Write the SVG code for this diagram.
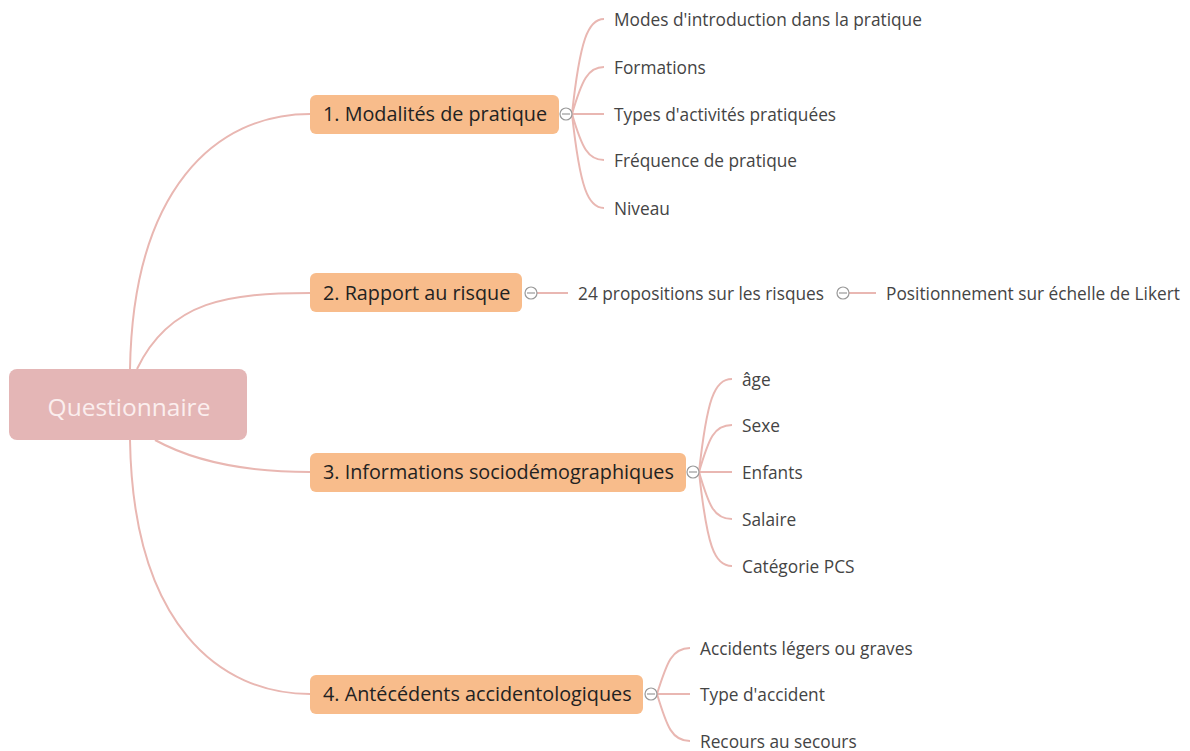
<svg xmlns="http://www.w3.org/2000/svg" width="1190" height="751" viewBox="0 0 1190 751">
<style>
.c{fill:none;stroke:#e9b7b2;stroke-width:2}
.t{fill:#f8bc8b}
.tl{font-family:"Open Sans","Liberation Sans",sans-serif;font-size:19.8px;fill:#222}
.lf{font-family:"Open Sans","Liberation Sans",sans-serif;font-size:17.3px;fill:#444}
.cc{fill:#fff;stroke:#999;stroke-width:1.2}
.cm{stroke:#999;stroke-width:1.2}
</style>
<rect width="1190" height="751" fill="#fff"/>
<g id="connectors">
<path class="c" d="M130,369 C133,190 215,114 310,114"/>
<path class="c" d="M137,369 C170,300 230,293 310,293"/>
<path class="c" d="M155,440 C195,462 250,472 310,472"/>
<path class="c" d="M130,440 C133,625 220,694 310,694"/>
<path class="c" d="M572,114 C580,40 588,19 604,19"/>
<path class="c" d="M572,114 C582,80 588,67 604,67"/>
<path class="c" d="M572,114 L604,114"/>
<path class="c" d="M572,114 C582,148 588,160 604,160"/>
<path class="c" d="M572,114 C580,188 588,208 604,208"/>
<path class="c" d="M537,293 L568,293"/>
<path class="c" d="M849,293 L876,293"/>
<path class="c" d="M699,472 C707,400 714,379 732,379"/>
<path class="c" d="M699,472 C709,438 714,425 732,425"/>
<path class="c" d="M699,472 L732,472"/>
<path class="c" d="M699,472 C709,506 714,519 732,519"/>
<path class="c" d="M699,472 C707,545 714,566 732,566"/>
<path class="c" d="M657,694 C667,662 672,648 690,648"/>
<path class="c" d="M657,694 L690,694"/>
<path class="c" d="M657,694 C667,727 672,741 690,741"/>
</g>
<g id="root">
<rect x="9" y="369" width="238" height="71" rx="8" fill="#e4b6b6"/>
<text x="129" y="416" text-anchor="middle" font-family="'Open Sans','Liberation Sans',sans-serif" font-size="24.5" fill="#fbeeee">Questionnaire</text>
</g>
<g id="n1">
<rect class="t" x="310" y="95" width="249" height="39" rx="6"/>
<text class="tl" x="323" y="121">1. Modalités de pratique</text>
<circle class="cc" cx="566" cy="114" r="6"/><line class="cm" x1="562" y1="114" x2="570" y2="114"/>
</g>
<g id="n2">
<rect class="t" x="310" y="273" width="212" height="39" rx="6"/>
<text class="tl" x="323" y="300">2. Rapport au risque</text>
<circle class="cc" cx="531" cy="293" r="6"/><line class="cm" x1="527" y1="293" x2="535" y2="293"/>
</g>
<g id="n2a">
<text class="lf" x="578" y="300">24 propositions sur les risques</text>
<circle class="cc" cx="843" cy="293" r="6"/><line class="cm" x1="839" y1="293" x2="847" y2="293"/>
</g>
<g id="n2b"><text class="lf" x="886" y="300">Positionnement sur échelle de Likert</text></g>
<g id="n3">
<rect class="t" x="310" y="453" width="376" height="39" rx="6"/>
<text class="tl" x="323" y="479">3. Informations sociodémographiques</text>
<circle class="cc" cx="693" cy="472" r="6"/><line class="cm" x1="689" y1="472" x2="697" y2="472"/>
</g>
<g id="n4">
<rect class="t" x="310" y="675" width="333" height="39" rx="6"/>
<text class="tl" x="323" y="701">4. Antécédents accidentologiques</text>
<circle class="cc" cx="651" cy="694" r="6"/><line class="cm" x1="647" y1="694" x2="655" y2="694"/>
</g>
<g id="n1a"><text class="lf" x="614" y="26">Modes d'introduction dans la pratique</text></g>
<g id="n1b"><text class="lf" x="614" y="74">Formations</text></g>
<g id="n1c"><text class="lf" x="614" y="121">Types d'activités pratiquées</text></g>
<g id="n1d"><text class="lf" x="614" y="167">Fréquence de pratique</text></g>
<g id="n1e"><text class="lf" x="614" y="215">Niveau</text></g>
<g id="n3a"><text class="lf" x="742" y="386">âge</text></g>
<g id="n3b"><text class="lf" x="742" y="432">Sexe</text></g>
<g id="n3c"><text class="lf" x="742" y="479">Enfants</text></g>
<g id="n3d"><text class="lf" x="742" y="526">Salaire</text></g>
<g id="n3e"><text class="lf" x="742" y="573">Catégorie PCS</text></g>
<g id="n4a"><text class="lf" x="700" y="655">Accidents légers ou graves</text></g>
<g id="n4b"><text class="lf" x="700" y="701">Type d'accident</text></g>
<g id="n4c"><text class="lf" x="700" y="748">Recours au secours</text></g>
</svg>
